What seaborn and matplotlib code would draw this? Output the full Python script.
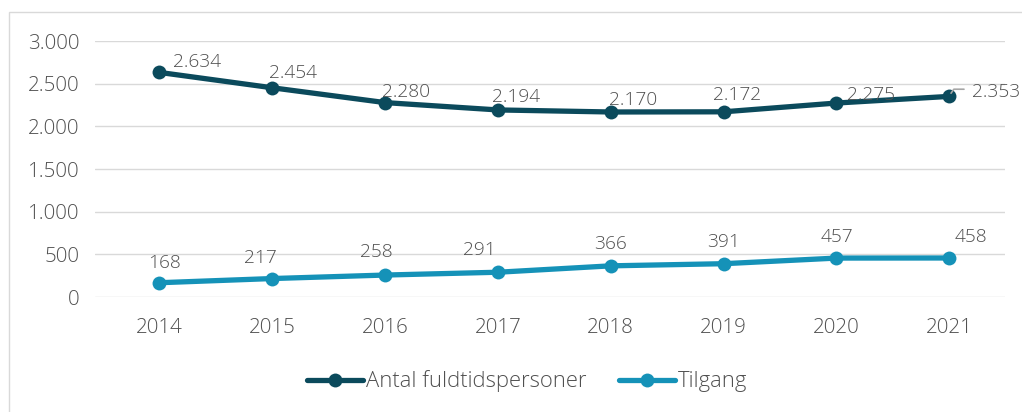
import pandas as pd
import matplotlib.pyplot as plt
import seaborn as sns
from matplotlib.patches import Rectangle

years = ['2014', '2015', '2016', '2017', '2018', '2019', '2020', '2021']
fuldtid = [2634, 2454, 2280, 2194, 2170, 2172, 2275, 2353]
tilgang = [168, 217, 258, 291, 366, 391, 457, 458]
series_names = ['Antal fuldtidspersoner', 'Tilgang']

# label offsets in pixels (x, y up) as placed in the original
fuldtid_off = [(14, 10), (-3, 15), (-3, 11), (-6, 13), (-2, 12), (-11, 17), (11, 8), (23, 4)]
tilgang_off = [(5, 20), (-12, 21), (-9, 23), (-19, 22), (0, 22), (0, 22), (0, 21), (22, 21)]

dark = '#0b4a5c'
light = '#1592b8'
grey_txt = '#505050'

df = pd.DataFrame({'År': years * 2,
                   'Værdi': fuldtid + tilgang,
                   'Serie': [series_names[0]] * 8 + [series_names[1]] * 8})

sns.set_style('white')
plt.rcParams['font.family'] = ['Open Sans', 'DejaVu Sans']
plt.rcParams['font.weight'] = 'light'

fig = plt.figure(figsize=(10.22, 4.12), dpi=100)
ax = fig.add_axes([0.093, 0.279, 0.89, 0.621])

sns.lineplot(data=df, x='År', y='Værdi', hue='Serie', palette=[dark, light],
             marker='o', markersize=10, linewidth=3.8, markeredgewidth=0,
             sort=False, ax=ax)

ax.set_ylim(0, 3000)
ax.set_xlim(-0.57, 7.49)
ax.set_yticks(range(0, 3001, 500))
ax.set_yticklabels([f'{v:,}'.replace(',', '.') for v in range(0, 3001, 500)])
ax.yaxis.grid(True, color='#d9d9d9', linewidth=1)
ax.set_axisbelow(True)
for s in ax.spines.values():
    s.set_visible(False)
ax.tick_params(axis='both', length=0, labelsize=14.8, labelcolor=grey_txt)
ax.tick_params(axis='x', pad=15)
ax.tick_params(axis='y', pad=11)
ax.set_xlabel('')
ax.set_ylabel('')

# data labels
for i, v in enumerate(fuldtid):
    dx, dy = fuldtid_off[i]
    ax.annotate(f'{v:,}'.replace(',', '.'), (i, v), xytext=(dx * 0.72, dy * 0.72),
                textcoords='offset points', fontsize=13.8, color=grey_txt,
                ha='left', va='center')
for i, v in enumerate(tilgang):
    dx, dy = tilgang_off[i]
    ax.annotate(str(v), (i, v), xytext=(dx * 0.72, dy * 0.72),
                textcoords='offset points', fontsize=13.8, color=grey_txt,
                ha='center', va='center')
# leader line for the last label
ax.plot([7.015, 7.04, 7.13], [2390, 2437, 2437], color='#a6a6a6', lw=1.2)

handles, labels = ax.get_legend_handles_labels()
ax.legend(handles, labels, loc='center', bbox_to_anchor=(0.475, -0.33),
          ncol=2, frameon=False, fontsize=15.8, labelcolor=grey_txt,
          handlelength=2.55, handletextpad=0.12, columnspacing=1.5)

fig.patches.append(Rectangle((9 / 1022, -0.1), 1.2, 1 - 12 / 412 + 0.1,
                             transform=fig.transFigure, fill=False,
                             edgecolor='#d9d9d9', linewidth=1))

fig.savefig('out.png', dpi=100)
